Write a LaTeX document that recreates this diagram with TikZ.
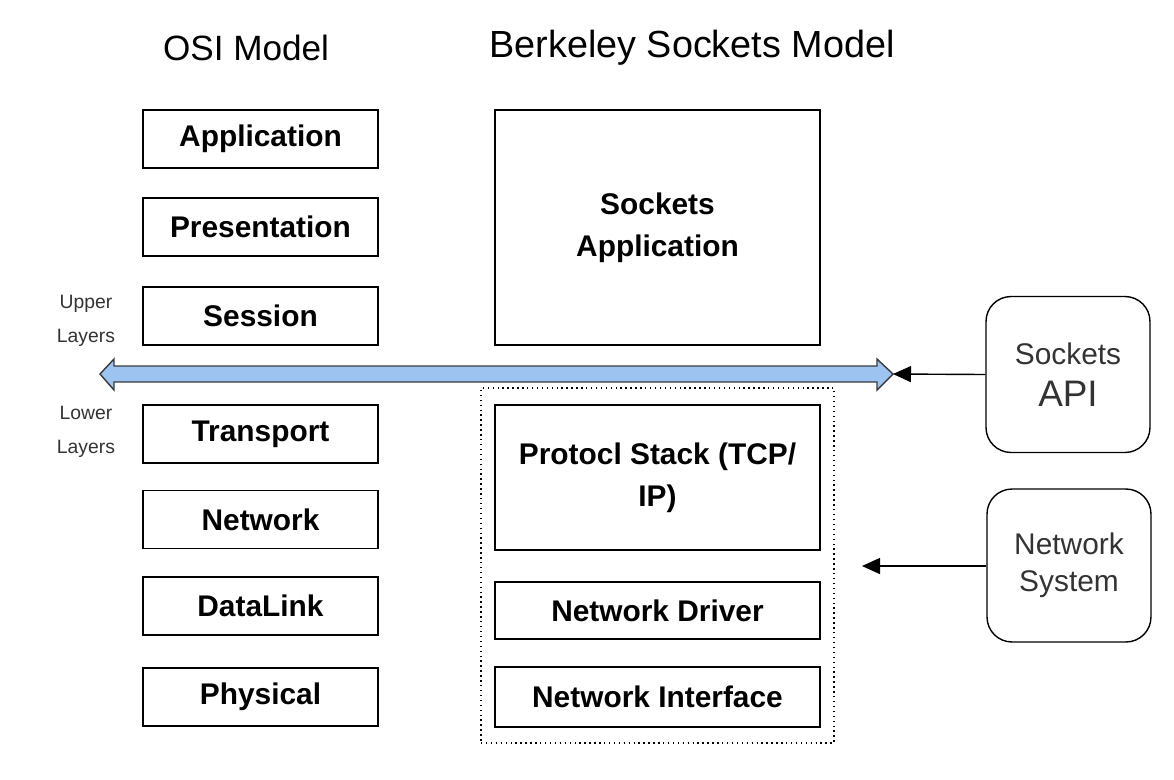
\documentclass[tikz,border=0pt]{standalone}
\usepackage{fontspec}
\setmainfont{Liberation Sans}
\usetikzlibrary{arrows.meta,positioning,calc}
\definecolor{layerblue}{HTML}{9DC3F0}
\definecolor{edgegray}{HTML}{3A3A3A}
\definecolor{softtext}{HTML}{333333}

\begin{document}
\begin{tikzpicture}[x=0.02cm, y=-0.02cm,
  titletext/.style={font=\fontsize{20}{24}\selectfont},
  sidelabel/.style={align=center, font=\fontsize{11}{19}\selectfont, text=softtext},
  osibox/.style={draw, line width=1pt, minimum width=4.7cm, minimum height=1.16cm, font=\fontsize{17}{24}\selectfont\bfseries},
  sockbox/.style={draw, line width=1pt, minimum width=6.5cm, align=center, font=\fontsize{17}{24}\selectfont\bfseries},
  roundbox/.style={draw, line width=0.8pt, rounded corners=0.5cm, minimum width=3.28cm, align=center, text=softtext, font=\fontsize{17}{21}\selectfont},
  feedline/.style={line width=0.8pt, -{Triangle[length=0.36cm, width=0.32cm]}}]
\useasboundingbox (0,0) rectangle (1174,779);
% titles
\node[titletext] (osititle) at (246,48) {OSI Model};
\node[titletext, font=\fontsize{21.5}{24}\selectfont] (bsdtitle) at (692,48) {Berkeley Sockets Model};
% OSI layers
\node[osibox] (application) at (260.5,139) {Application};
\node[osibox] (presentation) at (260.5,227) {Presentation};
\node[osibox] (session) at (260.5,316) {Session};
\node[osibox] (transport) at (260.5,434) {Transport};
\node[osibox] (network) at (260.5,519.5) {Network};
\node[osibox] (datalink) at (260.5,606) {DataLink};
\node[osibox] (physical) at (260.5,697) {Physical};
\node[sidelabel] (upper) at (86,321) {Upper\\Layers};
\node[sidelabel] (lower) at (86,432) {Lower\\Layers};
% sockets side
\node[sockbox, minimum height=4.7cm] (sockapp) at (657.5,227.5) {Sockets\\Application};
\node[draw, dotted, line width=0.8pt, minimum width=7.06cm, minimum height=7.1cm] (stack) at (657.5,565.5) {};
\node[sockbox, minimum height=2.9cm] (tcpip) at (657.5,477.5) {Protocl Stack (TCP/\\IP)};
\node[sockbox, minimum height=1.14cm] (driver) at (657.5,610.5) {Network Driver};
\node[sockbox, minimum height=1.2cm] (iface) at (657.5,697) {Network Interface};
\node[roundbox, minimum height=3.12cm] (api) at (1068,374.5) {Sockets\\[3pt]{\fontsize{21}{24}\selectfont API}};
\node[roundbox, minimum height=3.06cm] (netsys) at (1069,565.5) {Network\\System};
% layer boundary arrow
\coordinate (lefttip) at (100,374);
\coordinate (apitip) at (893,374);
\coordinate (nettip) at (862,566);
\draw[fill=layerblue, draw=edgegray, line width=0.8pt] (lefttip) -- (114,359) -- (114,366) -- (877,366) -- (877,359) -- (apitip)
  -- (877,390) -- (877,382) -- (114,382) -- (114,390) -- cycle;
\draw[feedline] (api.west) -- (apitip);
\draw[feedline] (netsys.west |- nettip) -- (nettip);
\end{tikzpicture}
\end{document}
